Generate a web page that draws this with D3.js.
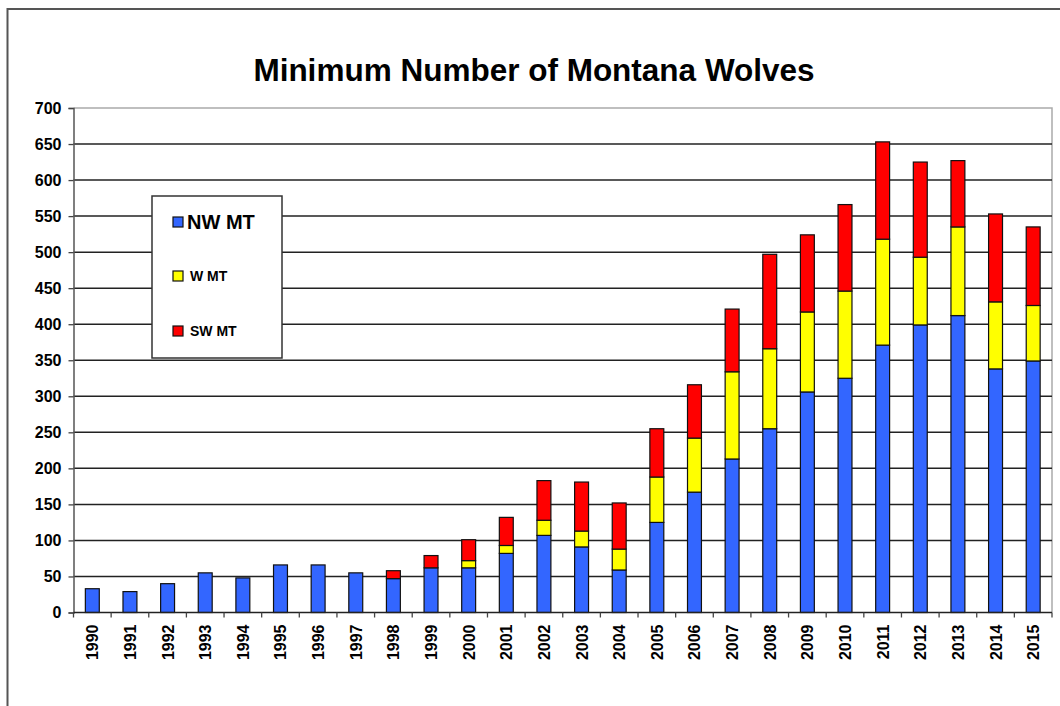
<!DOCTYPE html>
<html>
<head>
<meta charset="utf-8">
<script src="https://cdn.jsdelivr.net/npm/d3@7"></script>
<style>
  body { margin: 0; background: #fff; }
  svg { font-family: "Liberation Sans", Arial, sans-serif; }
</style>
</head>
<body>
<div id="chart"></div>
<script>
// wolf counts per region
var years = [1990, 1991, 1992, 1993, 1994, 1995, 1996, 1997, 1998, 1999,
             2000, 2001, 2002, 2003, 2004, 2005, 2006, 2007, 2008, 2009,
             2010, 2011, 2012, 2013, 2014, 2015];
var nwMT = [33, 29, 40, 55, 48, 66, 66, 55, 47, 62,
            62, 82, 107, 91, 59, 125, 167, 213, 255, 306,
            325, 371, 399, 412, 338, 349];
var wMT  = [0, 0, 0, 0, 0, 0, 0, 0, 0, 0,
            10, 11, 21, 22, 29, 63, 75, 121, 111, 111,
            121, 147, 94, 123, 93, 77];
var swMT = [0, 0, 0, 0, 0, 0, 0, 0, 11, 17,
            29, 39, 55, 68, 64, 67, 74, 87, 131, 107,
            120, 135, 132, 92, 122, 109];
var seriesNames = ["NW MT", "W MT", "SW MT"];
var seriesColors = ["#3366ff", "#ffff00", "#ff0000"];
var yTicks = [0, 50, 100, 150, 200, 250, 300, 350, 400, 450, 500, 550, 600, 650, 700];

var W = 1060, H = 706;
var plotLeft = 73.5, plotRight = 1052, plotTop = 108, plotBottom = 612.5;

var svg = d3.select("#chart").append("svg")
  .attr("width", W)
  .attr("height", H);

// outer frame
svg.append("rect")
  .attr("x", 7.5).attr("y", 9)
  .attr("width", 1100).attr("height", 760)
  .attr("fill", "#fff")
  .attr("stroke", "#555")
  .attr("stroke-width", 2);

// title
svg.append("text")
  .attr("x", 534)
  .attr("y", 81)
  .attr("text-anchor", "middle")
  .style("font-size", "31.5px")
  .style("font-weight", "bold")
  .text("Minimum Number of Montana Wolves");

// scales
var x = d3.scaleBand()
  .domain(years)
  .range([plotLeft, plotRight])
  .paddingInner(0.63)
  .paddingOuter(0.315);

var y = d3.scaleLinear()
  .domain([0, 700])
  .range([plotBottom, plotTop]);

// stack the table
var table = years.map(function(yr, i) {
  return { year: yr, "NW MT": nwMT[i], "W MT": wMT[i], "SW MT": swMT[i] };
});
var stacked = d3.stack().keys(seriesNames)(table);

// plot border (light gray) on top and right
svg.append("path")
  .attr("d", "M" + plotLeft + "," + plotTop + "H" + plotRight + "V" + plotBottom)
  .attr("fill", "none")
  .attr("stroke", "#aaa")
  .attr("stroke-width", 1.5);

// grid lines
svg.selectAll(".grid")
  .data(yTicks.filter(function(d) { return d > 0 && d < 700; }))
  .enter().append("line")
  .attr("class", "grid")
  .attr("x1", plotLeft).attr("x2", plotRight)
  .attr("y1", function(d) { return y(d); })
  .attr("y2", function(d) { return y(d); })
  .attr("stroke", "#222")
  .attr("stroke-width", 1.5);

// y axis
var yAxis = d3.axisLeft(y)
  .tickValues(yTicks)
  .tickSize(5)
  .tickPadding(7);

var gy = svg.append("g")
  .attr("transform", "translate(" + plotLeft + ",0)")
  .call(yAxis);
gy.select(".domain").attr("stroke", "#555").attr("stroke-width", 1.5);
gy.selectAll(".tick line").attr("stroke", "#444").attr("stroke-width", 1.3);
gy.selectAll("text")
  .style("font-size", "16px")
  .style("font-weight", "bold")
  .attr("fill", "#000");

// bars
var groups = svg.selectAll(".series")
  .data(stacked)
  .enter().append("g")
  .attr("class", "series")
  .attr("fill", function(d, i) { return seriesColors[i]; });

groups.selectAll("rect")
  .data(function(d) { return d.filter(function(p) { return p[1] > p[0]; }); })
  .enter().append("rect")
  .attr("x", function(d) { return x(d.data.year); })
  .attr("y", function(d) { return y(d[1]); })
  .attr("width", x.bandwidth())
  .attr("height", function(d) { return y(d[0]) - y(d[1]); })
  .attr("stroke", "#111")
  .attr("stroke-width", 1.2);

// x axis
svg.append("line")
  .attr("x1", plotLeft).attr("x2", plotRight)
  .attr("y1", plotBottom).attr("y2", plotBottom)
  .attr("stroke", "#222")
  .attr("stroke-width", 1.5);

var boundaries = years.map(function(d) {
  return x(d) + x.bandwidth() / 2 - x.step() / 2;
});
boundaries.push(plotRight);

svg.selectAll(".xtick")
  .data(boundaries)
  .enter().append("line")
  .attr("class", "xtick")
  .attr("x1", function(d) { return d; })
  .attr("x2", function(d) { return d; })
  .attr("y1", plotBottom)
  .attr("y2", plotBottom + 5)
  .attr("stroke", "#444")
  .attr("stroke-width", 1.3);

svg.selectAll(".xlabel")
  .data(years)
  .enter().append("text")
  .attr("class", "xlabel")
  .attr("transform", function(d) {
    return "translate(" + (x(d) + x.bandwidth() / 2 + 6) + "," + (plotBottom + 12) + ") rotate(-90)";
  })
  .attr("text-anchor", "end")
  .style("font-size", "16px")
  .style("font-weight", "bold")
  .text(function(d) { return d; });

// legend
var legend = svg.append("g");
legend.append("rect")
  .attr("x", 152).attr("y", 196)
  .attr("width", 130).attr("height", 162)
  .attr("fill", "#fff")
  .attr("stroke", "#333")
  .attr("stroke-width", 1.5);

var legendRows = [
  { name: seriesNames[0], color: seriesColors[0], y: 222, size: "20px" },
  { name: seriesNames[1], color: seriesColors[1], y: 276, size: "14px" },
  { name: seriesNames[2], color: seriesColors[2], y: 331, size: "14px" }
];

var items = legend.selectAll(".item")
  .data(legendRows)
  .enter().append("g")
  .attr("class", "item");

items.append("rect")
  .attr("x", 173)
  .attr("y", function(d) { return d.y - 5; })
  .attr("width", 10).attr("height", 10)
  .attr("fill", function(d) { return d.color; })
  .attr("stroke", "#111")
  .attr("stroke-width", 1.2);

items.append("text")
  .attr("x", function(d, i) { return i == 0 ? 187 : 190; })
  .attr("y", function(d) { return d.y; })
  .attr("dy", "0.36em")
  .style("font-size", function(d) { return d.size; })
  .style("font-weight", "bold")
  .text(function(d) { return d.name; });
</script>
</body>
</html>
